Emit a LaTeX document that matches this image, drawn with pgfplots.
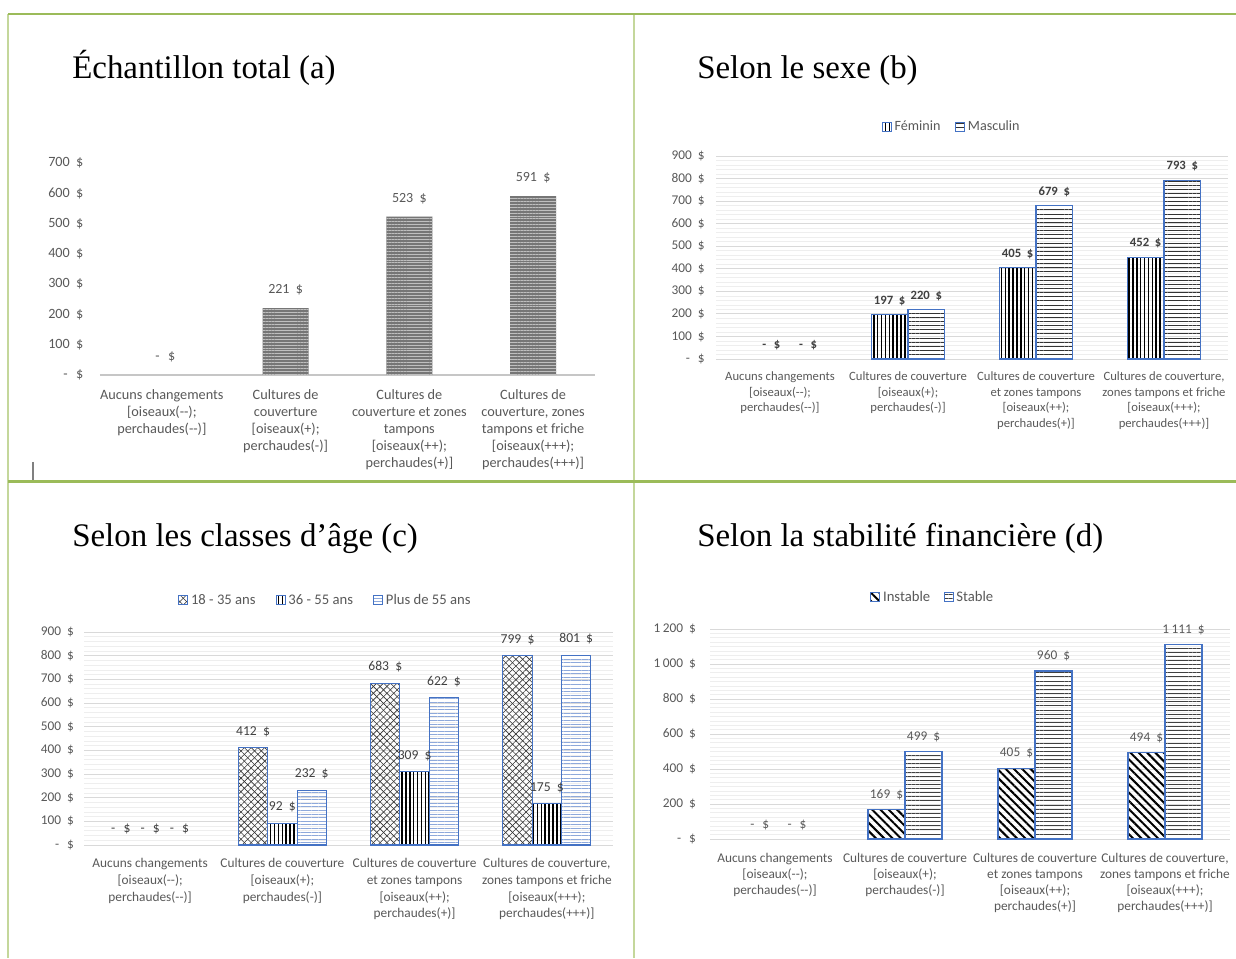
\documentclass[border=0pt]{standalone}
\usepackage{pgfplots}
\pgfplotsset{compat=1.18}
\usepackage{fontspec}
\usetikzlibrary{patterns,patterns.meta}
\newfontfamily\calib{Carlito}
\newfontfamily\ttl{Liberation Serif}
\definecolor{grn}{HTML}{9BBB59}
\definecolor{grnl}{HTML}{C4D79B}
\definecolor{bl}{HTML}{4472C4}
\definecolor{txt}{HTML}{595959}
\definecolor{txtd}{HTML}{404040}
\definecolor{lbl}{HTML}{8EA9DB}
\newcommand{\D}{\hspace{0.45em}\$}
\newcommand{\Z}{-\hspace{0.6em}\$}
\newcommand{\K}{\hspace{0.2em}}
\pgfplotsset{
  base/.style={scale only axis, anchor=south west, ybar, xmin=-0.5, xmax=3.5, ymin=0,
    xtick={0,1,2,3}, axis line style={draw=none}, tick style={draw=none},
    major tick length=0pt, minor tick length=0pt, clip=false,
    xticklabel style={align=center, text=txt},
    yticklabel style={anchor=east, text=txt},
    legend columns=-1,
    legend style={draw=none, fill=none, anchor=center, text=txt},
  },
  grids/.style={ymajorgrids, yminorgrids,
    major grid style={draw=gray!30, line width=0.6pt},
    minor grid style={draw=gray!13, line width=0.5pt}},
  lg/.style={legend image code/.code={\draw[##1] (0pt,-3.4pt) rectangle (6.8pt,3.4pt);}},
  zl/.style={forget plot, draw=none, fill=none, nodes near coords, point meta=explicit symbolic},
}
\begin{document}
\begin{tikzpicture}[x=0.75pt,y=0.75pt]
\fill[white] (0,0) rectangle (1236,958);
% table borders
\draw[grnl, line width=1.1pt] (8,944) -- (8,0);
\draw[grnl, line width=1.5pt] (633.5,944) -- (633.5,0);
\draw[grn, line width=1.9pt] (8,944) -- (1236,944);
\draw[grn, line width=2pt] (8,476.5) -- (1236,476.5);
\draw[gray, line width=0.8pt] (33,496) -- (33,478);
% titles
\node[anchor=base west, inner sep=0, font=\ttl\fontsize{24.7}{28}\selectfont] at (72,879) {Échantillon total (a)};
\node[anchor=base west, inner sep=0, font=\ttl\fontsize{24.7}{28}\selectfont] at (697,879) {Selon le sexe (b)};
\node[anchor=base west, inner sep=0, font=\ttl\fontsize{24.7}{28}\selectfont] at (72,411) {Selon les classes d’âge (c)};
\node[anchor=base west, inner sep=0, font=\ttl\fontsize{24.7}{28}\selectfont] at (697,411) {Selon la stabilité financière (d)};

% ---------- (a)
\begin{axis}[base, at={(75pt,437.25pt)}, width=371.25pt, height=159pt, ymax=700,
  bar width=34.5pt,
  ytick={0,100,...,700},
  yticklabels={\Z,100\D,200\D,300\D,400\D,500\D,600\D,700\D},
  yticklabel style={font=\calib\fontsize{10.6}{12}\selectfont, xshift=-9pt},
  xticklabel style={font=\calib\fontsize{10.7}{12.75}\selectfont, yshift=-7.5pt},
  xticklabels={{Aucuns changements\\{[}oiseaux(--);\\perchaudes(--)]},
    {Cultures de\\couverture\\{[}oiseaux(+);\\perchaudes(-)]},
    {Cultures de\\couverture et zones\\tampons\\{[}oiseaux(++);\\perchaudes(+)]},
    {Cultures de\\couverture, zones\\tampons et friche\\{[}oiseaux(+++);\\perchaudes(+++)]}},
  nodes near coords, point meta=explicit symbolic,
  every node near coord/.append style={font=\calib\fontsize{10.5}{12}\selectfont, text=txt, yshift=6pt},
]
\draw[gray!45, line width=1.7pt] (axis cs:-0.5,0) -- (axis cs:3.5,0);
\addplot[fill={rgb,255:red,118;green,118;blue,118}, draw=none,
  postaction={pattern={Lines[angle=0,distance=2.2pt,line width=0.5pt]}, pattern color=gray!50}]
  coordinates {(1,221) [221\D] (2,523) [523\D] (3,591) [591\D]};
\addplot[zl, bar shift=2.5pt] coordinates {(0,0) [\Z]};
\end{axis}

% ---------- (b)
\begin{axis}[base, grids, at={(537pt,449.25pt)}, width=384pt, height=152.25pt, ymax=900,
  bar width=27.5pt, minor y tick num=4,
  ytick={0,100,...,900},
  yticklabels={\Z,100\D,200\D,300\D,400\D,500\D,600\D,700\D,800\D,900\D},
  yticklabel style={font=\calib\fontsize{10}{12}\selectfont, xshift=-5pt},
  xticklabel style={font=\calib\fontsize{9.5}{11.6}\selectfont, yshift=-6.25pt},
  xticklabels={{Aucuns changements\\{[}oiseaux(-{}-);\\perchaudes(-{}-)]},
    {Cultures de couverture\\{[}oiseaux(+);\\perchaudes(-)]},
    {Cultures de couverture\\et zones tampons\\{[}oiseaux(++);\\perchaudes(+)]},
    {Cultures de couverture,\\zones tampons et friche\\{[}oiseaux(+++);\\perchaudes(+++)]}},
  legend style={at={(0.461,1.145)}, font=\calib\fontsize{10.6}{12}\selectfont,
    /tikz/every even column/.append style={column sep=9pt}},
  every node near coord/.append style={font=\calib\bfseries\fontsize{9.5}{11}\selectfont, text=txtd, yshift=3pt},
]
\addplot[lg, bar shift=-13.75pt, draw=bl, line width=0.8pt,
  pattern={Lines[angle=90,distance=2.9pt,line width=1.1pt]}, pattern color=black,
  nodes near coords, point meta=explicit symbolic]
  coordinates {(1,197) [197\D] (2,405) [405\D] (3,452) [452\D]};
\addlegendentry{Féminin}
\addplot[lg, bar shift=13.75pt, draw=bl, line width=0.8pt,
  pattern={Lines[angle=0,distance=3.1pt,line width=0.6pt]}, pattern color=black!80,
  nodes near coords, point meta=explicit symbolic]
  coordinates {(1,220) [220\D] (2,679) [679\D] (3,793) [793\D]};
\addlegendentry{Masculin}
\addplot[zl, bar shift=-6.5pt] coordinates {(0,0) [\Z]};
\addplot[zl, bar shift=21pt] coordinates {(0,0) [\Z]};
\end{axis}

% ---------- (c)
\begin{axis}[base, grids, at={(63pt,84.75pt)}, width=396.75pt, height=159.75pt, ymax=900,
  bar width=22pt, minor y tick num=4,
  ytick={0,100,...,900},
  yticklabels={\Z,100\D,200\D,300\D,400\D,500\D,600\D,700\D,800\D,900\D},
  yticklabel style={font=\calib\fontsize{10}{12}\selectfont, xshift=-4pt},
  xticklabel style={font=\calib\fontsize{10}{12.4}\selectfont, yshift=-6.75pt},
  xticklabels={{Aucuns changements\\{[}oiseaux(--);\\perchaudes(-{}-)]},
    {Cultures de couverture\\{[}oiseaux(+);\\perchaudes(-)]},
    {Cultures de couverture\\et zones tampons\\{[}oiseaux(++);\\perchaudes(+)]},
    {Cultures de couverture,\\zones tampons et friche\\{[}oiseaux(+++);\\perchaudes(+++)]}},
  legend style={at={(0.457,1.150)}, font=\calib\fontsize{11}{12}\selectfont,
    /tikz/every even column/.append style={column sep=13pt}},
  every node near coord/.append style={font=\calib\fontsize{10.2}{12}\selectfont, text=txtd, yshift=4.5pt},
]
\addplot[lg, bar shift=-22pt, draw=bl, line width=0.8pt,
  pattern={Lines[angle=45,distance=3.6pt,line width=0.45pt]}, pattern color=gray!40!black,
  postaction={pattern={Lines[angle=-45,distance=3.6pt,line width=0.45pt]}, pattern color=gray!40!black},
  nodes near coords, point meta=explicit symbolic]
  coordinates {(1,412) [412\D] (2,683) [683\D] (3,799) [799\D]};
\addlegendentry{18 - 35 ans}
\addplot[lg, bar shift=0pt, draw=bl, line width=0.8pt,
  pattern={Lines[angle=90,distance=2.9pt,line width=1.1pt]}, pattern color=black,
  nodes near coords, point meta=explicit symbolic]
  coordinates {(1,92) [92\D] (2,309) [309\D] (3,175) [175\D]};
\addlegendentry{36 - 55 ans}
\addplot[lg, bar shift=22pt, draw=bl, line width=0.8pt,
  pattern={Lines[angle=0,distance=2.7pt,line width=0.6pt]}, pattern color=lbl,
  nodes near coords, point meta=explicit symbolic]
  coordinates {(1,232) [232\D] (2,622) [622\D] (3,801) [801\D]};
\addlegendentry{Plus de 55 ans}
\addplot[zl, bar shift=-22pt] coordinates {(0,0) [\Z]};
\addplot[zl, bar shift=0pt] coordinates {(0,0) [\Z]};
\addplot[zl, bar shift=22pt] coordinates {(0,0) [\Z]};
\end{axis}

% ---------- (d)
\begin{axis}[base, grids, at={(532.5pt,89.25pt)}, width=390pt, height=157.5pt, ymax=1200,
  bar width=27.75pt, minor y tick num=7,
  ytick={0,200,...,1200},
  yticklabels={\Z,200\D,400\D,600\D,800\D,1\K000\D,1\K200\D},
  yticklabel style={font=\calib\fontsize{10}{12}\selectfont, xshift=-7pt},
  xticklabel style={font=\calib\fontsize{10}{12}\selectfont, yshift=-7.25pt},
  xticklabels={{Aucuns changements\\{[}oiseaux(--);\\perchaudes(-{}-)]},
    {Cultures de couverture\\{[}oiseaux(+);\\perchaudes(-)]},
    {Cultures de couverture\\et zones tampons\\{[}oiseaux(++);\\perchaudes(+)]},
    {Cultures de couverture,\\zones tampons et friche\\{[}oiseaux(+++);\\perchaudes(+++)]}},
  legend style={at={(0.429,1.152)}, font=\calib\fontsize{11}{12}\selectfont,
    /tikz/every even column/.append style={column sep=8pt}},
  every node near coord/.append style={font=\calib\fontsize{10}{12}\selectfont, text=txt, yshift=3.5pt},
]
\addplot[lg, bar shift=-13.875pt, draw=bl, line width=0.8pt,
  pattern={Lines[angle=-45,distance=4.4pt,line width=1.5pt]}, pattern color=black,
  nodes near coords, point meta=explicit symbolic]
  coordinates {(1,169) [169\D] (2,405) [405\D] (3,494) [494\D]};
\addlegendentry{Instable}
\addplot[lg, bar shift=13.875pt, draw=bl, line width=0.8pt,
  pattern={Lines[angle=0,distance=3.1pt,line width=0.7pt]}, pattern color=black!75,
  nodes near coords, point meta=explicit symbolic]
  coordinates {(1,499) [499\D] (2,960) [960\D] (3,1111) [1\K111\D]};
\addlegendentry{Stable}
\addplot[zl, bar shift=-11.5pt] coordinates {(0,0) [\Z]};
\addplot[zl, bar shift=16.5pt] coordinates {(0,0) [\Z]};
\end{axis}

\pgfresetboundingbox
\useasboundingbox (0,0) rectangle (1236,958);
\end{tikzpicture}
\end{document}
